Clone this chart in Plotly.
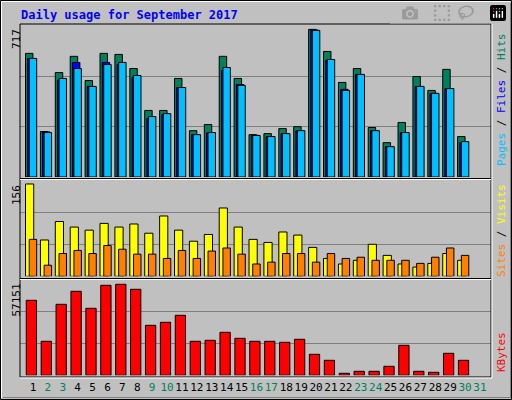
import plotly.graph_objects as go

days = list(range(1, 32))
weekend = [2, 3, 9, 10, 16, 17, 23, 24, 30, 31]
hits = [587,216,496,573,458,587,582,515,316,316,468,220,249,573,468,201,206,230,239,701,596,449,515,235,163,259,477,411,511,192,None]
files = [563,214,460,544,430,544,534,473,278,297,425,201,209,506,439,198,192,206,220,698,554,416,487,220,144,211,430,397,420,163,None]
pages = [563,211,468,515,430,534,544,482,287,301,425,201,211,520,435,197,192,206,220,696,558,411,487,220,144,211,430,397,420,168,None]
sites = [150,59,89,80,75,86,80,85,70,98,75,57,68,111,80,60,55,72,67,47,29,20,26,52,34,20,15,21,37,26,None]
visits = [60,18,37,42,37,50,44,36,36,29,42,29,41,46,36,20,23,37,37,23,37,29,31,26,26,26,21,31,46,34,None]
kbytes = [45113,20451,42707,50526,40301,54135,54737,51729,30075,31880,36090,20451,21053,25865,22256,20451,20451,19850,21654,12632,9023,1203,2406,2406,5414,18045,2406,1805,13233,9023,None]
max_hits, max_sites, max_kb = 717, 156, 57151

W, H = 512, 400
def py(y): return 1 - y / H
def px(x): return x / W

fig = go.Figure()
def bar(vals, color, off, wid, xa, ya):
    fig.add_trace(go.Bar(x=days, y=vals, offset=off, width=wid, marker=dict(color=color, line=dict(color="black", width=1)),
                         xaxis=xa, yaxis=ya, showlegend=False, hoverinfo="skip"))

bar(hits, "#00805c", -0.5, 0.5, "x", "y")
bar(files, "#0000ff", -0.35, 0.5, "x", "y")
bar(pages, "#00c0ff", -0.25, 0.5, "x", "y")
bar(sites, "#ffff00", -0.5, 0.55, "x2", "y2")
bar(visits, "#ff8000", -0.25, 0.5, "x2", "y2")
bar(kbytes, "#ff0000", -0.45, 0.69, "x3", "y3")

xr = [0.13, 31.74]
dom_x = [px(20), px(491)]
common_x = dict(range=xr, domain=dom_x, showgrid=False, zeroline=False, showline=False, fixedrange=True)
ticktext = [f"<span style='color:#00805c'>{d}</span>" if d in weekend else str(d) for d in days]
fig.update_layout(
    width=W, height=H, margin=dict(l=0, r=0, t=0, b=0),
    paper_bgcolor="#c0c0c0", plot_bgcolor="#c0c0c0", barmode="overlay",
    font=dict(family="DejaVu Sans Mono", size=11, color="black"),
    xaxis=dict(**common_x, anchor="y", showticklabels=False),
    xaxis2=dict(**common_x, anchor="y2", showticklabels=False),
    xaxis3=dict(**common_x, anchor="y3", tickvals=days, ticktext=ticktext, ticks="", tickangle=0,
                tickfont=dict(size=11), ticklabelstandoff=4),
    yaxis=dict(domain=[py(177), py(24)], range=[0, max_hits * 153 / 151], tickvals=[max_hits/3, 2*max_hits/3],
               showticklabels=False, gridcolor="#808080", zeroline=False, fixedrange=True),
    yaxis2=dict(domain=[py(276.3), py(180)], range=[0, max_sites * 96.3 / 96], tickvals=[max_sites/3, 2*max_sites/3],
                showticklabels=False, gridcolor="#808080", zeroline=False, fixedrange=True),
    yaxis3=dict(domain=[py(375.3), py(280.3)], range=[0, max_kb], tickvals=[max_kb/3, 2*max_kb/3],
                showticklabels=False, gridcolor="#808080", zeroline=False, fixedrange=True),
)

shapes = []
def rect(x0, y0, x1, y1, color, w=1):
    shapes.append(dict(type="rect", xref="paper", yref="paper", x0=px(x0), x1=px(x1), y0=py(y1), y1=py(y0),
                       line=dict(color=color, width=w), fillcolor="rgba(0,0,0,0)", layer="above"))
def line(x0, y0, x1, y1, color, w=1):
    shapes.append(dict(type="line", xref="paper", yref="paper", x0=px(x0), x1=px(x1), y0=py(y0), y1=py(y1),
                       line=dict(color=color, width=w), layer="above"))
rect(0.5, 0.5, 511.5, 399.5, "black")
line(1.5, 1.5, 510, 1.5, "white"); line(1.5, 1.5, 1.5, 398, "white")
line(3, 397.5, 510, 397.5, "#808080"); line(510.5, 3, 510.5, 398, "#808080")
rect(20, 24, 491, 377, "black")
line(20, 178.5, 491, 178.5, "black"); line(20, 179.5, 491, 179.5, "white")
line(20, 278.5, 491, 278.5, "black"); line(20, 279.5, 491, 279.5, "white")
line(492, 24, 492, 378, "white"); line(20, 378, 492, 378, "white")
fig.update_layout(shapes=shapes)

ann = [
    dict(x=px(19), y=py(15), text="<b>Daily usage for September 2017</b>", xanchor="left", yanchor="middle",
         font=dict(color="#0000ff", size=12)),
    dict(x=px(16), y=py(27), text=str(max_hits), textangle=-90, xanchor="center", yanchor="top"),
    dict(x=px(16), y=py(183), text=str(max_sites), textangle=-90, xanchor="center", yanchor="top"),
    dict(x=px(16), y=py(282), text=str(max_kb), textangle=-90, xanchor="center", yanchor="top"),
    dict(x=px(501), y=py(100), text="<span style='color:#00c0ff'>Pages</span> / <span style='color:#0000ff'>Files</span> / <span style='color:#00805c'>Hits</span>",
         textangle=-90, xanchor="center", yanchor="middle"),
    dict(x=px(501), y=py(231), text="<span style='color:#ff8000'>Sites</span> / <span style='color:#ffff00'>Visits</span>",
         textangle=-90, xanchor="center", yanchor="middle"),
    dict(x=px(501), y=py(352), text="<span style='color:#ff0000'>KBytes</span>",
         textangle=-90, xanchor="center", yanchor="middle"),
]
for a in ann:
    a.update(xref="paper", yref="paper", showarrow=False)
fig.update_layout(annotations=ann)
fig.write_html("out.html", post_script="document.body.style.margin='0';document.body.style.overflow='hidden';")
